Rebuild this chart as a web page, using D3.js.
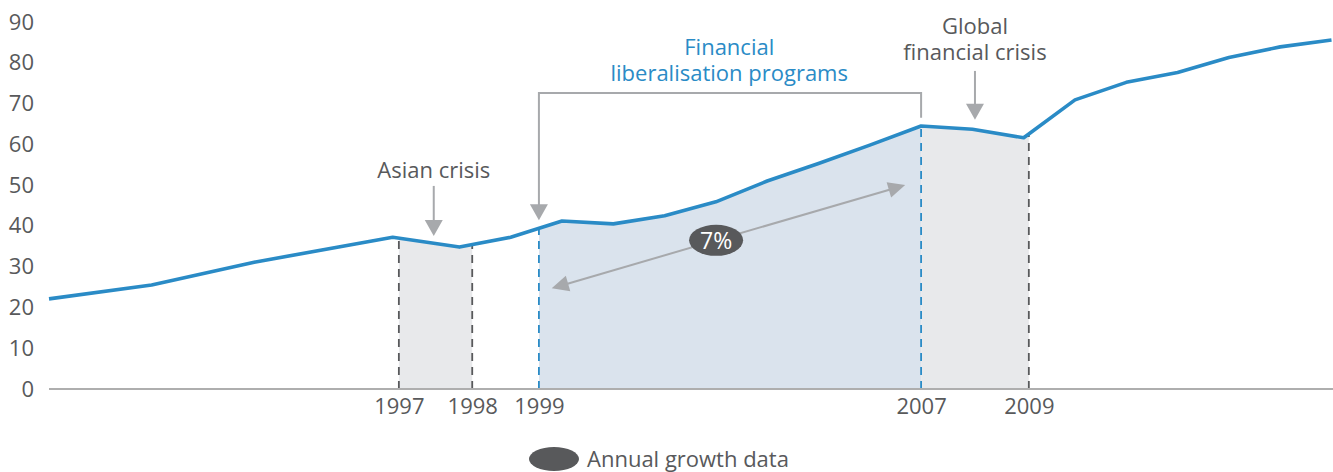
<!DOCTYPE html>
<html>
<head>
<meta charset="utf-8">
<script src="https://cdn.jsdelivr.net/npm/d3@7"></script>
<style>
  body { margin: 0; background: #fff; }
  svg text { font-family: "Open Sans", Lato, sans-serif; }
</style>
</head>
<body>
<svg id="chart" width="1333" height="472"></svg>
<script>
// series
const years  = [1990, 1992, 1994, 1996.7, 1998, 1999, 2000, 2001, 2002, 2003, 2004, 2005, 2006,
                2007, 2008, 2009, 2010, 2011, 2012, 2013, 2014, 2015]
const values = [22.1, 25.5, 31.1, 37.2, 34.8, 37.2, 41.2, 40.5, 42.5, 45.9, 51.0, 55.3, 59.8,
                64.5, 63.7, 61.6, 70.9, 75.2, 77.6, 81.3, 83.9, 85.6]

// labelled years on the x axis and where they sit
const yearLabels = ["1997", "1998", "1999", "2007", "2009"]
const yearAt     = [1996.82, 1998.25, 1999.55, 2007, 2009.1]

const yTicks = [0, 10, 20, 30, 40, 50, 60, 70, 80, 90]

// shaded periods, as pairs of indexes into yearAt
const periods = [[0, 1], [2, 3], [3, 4]]
const periodKinds = ["crisis", "program", "crisis"]

const growthLabel = "7%"
const legendLabel = "Annual growth data"

const blue = "#2a8bc6", grey = "#58595b", arrowGrey = "#a7a9ac"
const fontSize = 22

// small stand-in for d3-selection-multi
d3.selection.prototype.attrs = function(o) {
  for (let k in o) this.attr(k, o[k])
  return this
}

let svg = d3.select("#chart")
let data = years.map((y, i) => ({ year: y, value: values[i] }))

let x = d3.scaleLinear().domain([1990, 2015]).range([49, 1331.5])
let y = d3.scaleLinear().domain([0, 90]).range([389, 22])

// value of the line at any year
function valueAt(yr) {
  let i = d3.bisectRight(years, yr)
  if (i <= 0) return values[0]
  if (i >= years.length) return values[values.length - 1]
  let t = (yr - years[i - 1]) / (years[i] - years[i - 1])
  return values[i - 1] + t * (values[i] - values[i - 1])
}

let area = d3.area().x(d => x(d.year)).y0(y(0)).y1(d => y(d.value))
let line = d3.line().x(d => x(d.year)).y(d => y(d.value))

// shaded areas under the line, clipped to each period
let defs = svg.append("defs")
periods.forEach(([a, b], i) => {
  defs.append("clipPath").attr("id", "clip" + i)
    .append("rect")
    .attrs({ x: x(yearAt[a]), y: 0, width: x(yearAt[b]) - x(yearAt[a]), height: y(0) })
  svg.append("path")
    .datum(data)
    .attrs({
      d: area,
      fill: periodKinds[i] == "program" ? "#dae3ed" : "#e8e9eb",
      "clip-path": `url(#clip${i})`
    })
})

// dashed guides
yearAt.forEach((yr, i) => {
  let isBlue = i == 2 || i == 3
  svg.append("line")
    .attrs({
      x1: x(yr), x2: x(yr), y1: y(0), y2: y(valueAt(yr)),
      stroke: isBlue ? blue : grey,
      "stroke-width": 1.8,
      "stroke-dasharray": "8,6"
    })
})

// axes
let yAxis = svg.append("g")
  .attr("transform", `translate(${x.range()[0]},0)`)
  .call(d3.axisLeft(y).tickValues(yTicks).tickSize(0).tickPadding(15))
yAxis.select(".domain").remove()
yAxis.selectAll("text").attrs({ fill: grey, "font-size": fontSize })

let xAxis = svg.append("g")
  .attr("transform", `translate(0,${y(0)})`)
  .call(d3.axisBottom(x).tickValues(yearAt).tickFormat((d, i) => yearLabels[i]).tickSize(0).tickPadding(9))
xAxis.select(".domain").attrs({ stroke: "#aeaeae", "stroke-width": 2, d: `M${x.range()[0]},0H1333` })
xAxis.selectAll("text").attrs({ fill: grey, "font-size": fontSize })

// the series
svg.append("path")
  .datum(data)
  .attrs({ d: line, fill: "none", stroke: blue, "stroke-width": 3.6, "stroke-linejoin": "round" })

// arrow helper: a stem and a triangular head pointing down
function downArrow(cx, top, tip) {
  svg.append("line").attrs({ x1: cx, x2: cx, y1: top, y2: tip - 12, stroke: arrowGrey, "stroke-width": 2 })
  svg.append("path")
    .attrs({ d: `M${cx - 9},${tip - 16}L${cx + 9},${tip - 16}L${cx},${tip}Z`, fill: arrowGrey })
}

// two-line label, second line 26px under the first
function twoLines(cx, baseline, lines, colour) {
  svg.append("text")
    .attrs({ "text-anchor": "middle", fill: colour, "font-size": fontSize })
    .selectAll("tspan")
    .data(lines).enter()
    .append("tspan")
    .attrs({ x: cx, y: (d, i) => baseline + i * 26 })
    .text(d => d)
}

// Asian crisis
svg.append("text")
  .attrs({ x: x(1997.5), y: y(51.7), "text-anchor": "middle", fill: grey, "font-size": fontSize })
  .text("Asian crisis")
downArrow(x(1997.5), y(49.8), y(37.5))

// Financial liberalisation bracket
let bx0 = x(yearAt[2]), bx1 = x(yearAt[3]), by = y(72.6)
svg.append("path")
  .attrs({ d: `M${bx1},${y(66.5)}V${by}H${bx0}V${y(41.4) - 12}`, fill: "none", stroke: arrowGrey, "stroke-width": 2 })
svg.append("path")
  .attrs({ d: `M${bx0 - 9},${y(41.4) - 16}L${bx0 + 9},${y(41.4) - 16}L${bx0},${y(41.4)}Z`, fill: arrowGrey })
twoLines(x(2003.26), y(81.9), ["Financial", "liberalisation programs"], blue)

// Global financial crisis
twoLines(x(2008.05), y(87.1), ["Global", "financial crisis"], grey)
downArrow(x(2008.05), y(78), y(66))

// 7% growth arrow
let p0 = [x(1999.8), y(24.7)], p1 = [x(2006.69), y(50)]
let ang = Math.atan2(p1[1] - p0[1], p1[0] - p0[0])
function head(p, dir) {
  let a = ang + (dir > 0 ? 0 : Math.PI)
  let bx = p[0] - 17 * Math.cos(a), byy = p[1] - 17 * Math.sin(a)
  let nx = -Math.sin(a) * 8, ny = Math.cos(a) * 8
  svg.append("path").attrs({ d: `M${p[0]},${p[1]}L${bx + nx},${byy + ny}L${bx - nx},${byy - ny}Z`, fill: arrowGrey })
}
svg.append("line")
  .attrs({
    x1: p0[0] + 12 * Math.cos(ang), y1: p0[1] + 12 * Math.sin(ang),
    x2: p1[0] - 12 * Math.cos(ang), y2: p1[1] - 12 * Math.sin(ang),
    stroke: arrowGrey, "stroke-width": 2
  })
head(p0, -1)
head(p1, 1)
let bc = [p0[0] + 0.465 * (p1[0] - p0[0]), p0[1] + 0.465 * (p1[1] - p0[1])]
svg.append("ellipse").attrs({ cx: bc[0], cy: bc[1], rx: 27, ry: 15.5, fill: grey })
svg.append("text")
  .attrs({ x: bc[0], y: bc[1], dy: "0.36em", "text-anchor": "middle", fill: "#fff", "font-size": 23 })
  .text(growthLabel)

// legend
let legend = svg.append("g").attr("transform", "translate(554,459)")
legend.append("ellipse").attrs({ cx: 0, cy: 0, rx: 25, ry: 12, fill: grey })
legend.append("text")
  .attrs({ x: 33, y: 0, dy: "0.38em", fill: grey, "font-size": fontSize })
  .text(legendLabel)
</script>
</body>
</html>
